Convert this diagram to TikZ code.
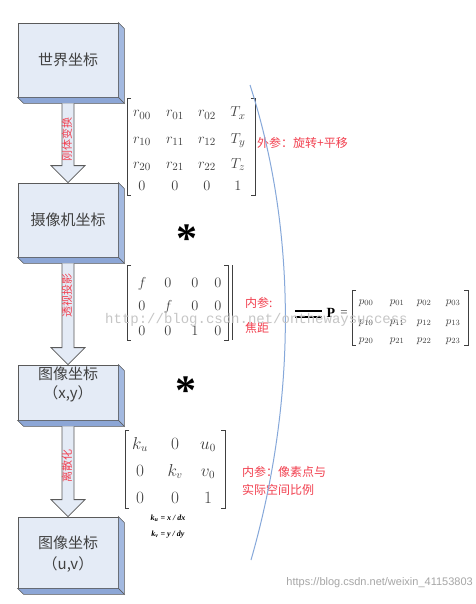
\documentclass[tikz,border=0pt]{standalone}
\usepackage{fontspec}
\setmainfont{Liberation Serif}
\newfontfamily\cjk{Noto Sans CJK SC}
\newfontfamily\wmmono{Liberation Mono}
\newfontfamily\wmsans{Liberation Sans}
\usetikzlibrary{calc}
\definecolor{face}{HTML}{E4EBF6}
\definecolor{side}{HTML}{A3B9E0}
\definecolor{sidedark}{HTML}{8CA6D6}
\definecolor{edge}{HTML}{5A5A5A}
\definecolor{lbl}{HTML}{F2404F}
\definecolor{ent}{HTML}{404040}
\definecolor{curvec}{HTML}{86A8DA}
\tikzset{
  box/.style={draw=edge, fill=face, line width=0.8pt, minimum width=100pt, inner sep=0pt},
  boxtext/.style={inner sep=0pt, font=\cjk\fontsize{15}{15}\selectfont, text=ent},
  boxside/.style={draw=edge, fill=side, line width=0.6pt},
  boxbottom/.style={draw=edge, fill=sidedark, line width=0.6pt},
  blockarrow/.style={draw=edge, fill=face, line width=0.8pt},
  arrlabel/.style={rotate=90, text=lbl, font=\cjk\fontsize{11}{11}\selectfont, inner sep=0pt},
  ent/.style={anchor=base, text=ent, inner sep=0pt, font=\fontsize{15}{15}\selectfont},
  pent/.style={anchor=base, text=ent, inner sep=0pt, font=\fontsize{11}{11}\selectfont},
  brk/.style={draw=ent, line width=0.8pt},
  redlbl/.style={anchor=west, text=lbl, inner sep=0pt, font=\cjk\fontsize{12}{12}\selectfont},
  star/.style={inner sep=0pt, font=\bfseries\fontsize{42}{42}\selectfont},
  kform/.style={inner sep=0pt, font=\bfseries\itshape\fontsize{8}{8}\selectfont},
}
\newcommand{\extrude}[1]{%
  \filldraw[boxside] (#1.north east) -- ++(6,6) -- ($(#1.south east)+(6,6)$) -- (#1.south east) -- cycle;
  \filldraw[boxbottom] (#1.south west) -- ++(6,6) -- ($(#1.south east)+(6,6)$) -- (#1.south east) -- cycle;}
\newcommand{\blockarr}[2]{%
  \filldraw[blockarrow] ($(#1.south)+(-6,6)$) -- ($(#2.north)+(-6,-17)$) -- ($(#2.north)+(-17,-17)$)
     -- (#2.north) -- ($(#2.north)+(17,-17)$) -- ($(#2.north)+(6,-17)$) -- ($(#1.south)+(6,6)$);}
\newcommand{\lbrk}[3]{\draw[brk] (#1+4,#2) -- (#1,#2) -- (#1,#3) -- (#1+4,#3);}
\newcommand{\rbrk}[3]{\draw[brk] (#1-4,#2) -- (#1,#2) -- (#1,#3) -- (#1-4,#3);}
\begin{document}
\begin{tikzpicture}[x=1pt,y=-1pt]
\useasboundingbox[fill=white] (0,0) rectangle (475,604);

% boxes
\node[box, minimum height=74pt] (b1) at (68,60) {};
\node[box, minimum height=74pt] (b2) at (68,220) {};
\node[box, minimum height=55pt] (b3) at (68,392.5) {};
\node[box, minimum height=71pt] (b4) at (68,552.5) {};
\extrude{b1}\extrude{b2}\extrude{b3}\extrude{b4}
\node[boxtext] (t1) at (b1) {世界坐标};
\node[boxtext] (t2) at (b2) {摄像机坐标};
\node[boxtext] (t3a) at (68,374) {图像坐标};
\node[boxtext] (t3b) at (68,394) {（x,y）};
\node[boxtext] (t4a) at (68,543) {图像坐标};
\node[boxtext] (t4b) at (68,564) {（u,v）};

% block arrows
\blockarr{b1}{b2}
\blockarr{b2}{b3}
\blockarr{b3}{b4}
\node[arrlabel] (l1) at (67,139) {刚体变换};
\node[arrlabel] (l2) at (67,295) {透视投影};
\node[arrlabel] (l3) at (67,466) {离散化};

% matrix 1 (extrinsic)
\lbrk{127}{98}{195}\rbrk{255}{98}{195}
\foreach \x/\y/\t [count=\i] in {
  142/117/r_{00}, 175/117/r_{01}, 207/117/r_{02}, 238/117/T_x,
  142/143/r_{10}, 175/143/r_{11}, 207/143/r_{12}, 238/143/T_y,
  142/168/r_{20}, 175/168/r_{21}, 207/168/r_{22}, 238/168/T_z,
  142/190/0, 175/190/0, 207/190/0, 238/190/1}
  \node[ent] (ma\i) at (\x,\y) {$\t$};
\node[redlbl] (ext) at (257,143) {外参：旋转+平移};

\node[star] (s1) at (187,239) {*};

% matrix 2 (projection)
\lbrk{127}{265}{340}\rbrk{228}{265}{340}
\draw[brk] (232,265) -- (232,340);
\foreach \x/\y/\t [count=\i] in {
  142/287/f, 168/287/0, 195/287/0, 218/287/0,
  142/310/0, 168/310/f, 195/310/0, 218/310/0,
  142/335/0, 168/335/0, 195/335/1, 218/335/0}
  \node[ent] (mb\i) at (\x,\y) {$\t$};
\node[redlbl] (int1) at (245,303) {内参:};
\node[redlbl] (int2) at (245,328) {焦距};

\node[star] (s2) at (186,391) {*};

% matrix 3 (pixel)
\lbrk{125}{430}{508}\rbrk{225}{430}{508}
\foreach \x/\y/\t [count=\i] in {
  140/449/k_u, 175/449/0, 208/449/u_0,
  140/476/0, 175/476/k_v, 208/476/v_0,
  140/503/0, 175/503/0, 208/503/1}
  \node[ent, font=\fontsize{16}{16}\selectfont] (mc\i) at (\x,\y) {$\t$};
\node[redlbl] (pix1) at (242,472) {内参：像素点与};
\node[redlbl] (pix2) at (242,490) {实际空间比例};
\node[kform] (ku) at (168,518) {k\textsubscript{u} = x / dx};
\node[kform] (kv) at (168,535) {k\textsubscript{v} = y / dy};

% curve
\draw[curvec, line width=1pt] (250,85) .. controls (297,230) and (297,400) .. (251,560);

% equals and P matrix
\draw[line width=2pt] (295,311) -- (322,311);
\draw[line width=2pt] (295,317) -- (322,317);
\node[inner sep=0pt, font=\bfseries\fontsize{14}{14}\selectfont] (P) at (331,313) {P};
\node[inner sep=0pt, font=\fontsize{13}{13}\selectfont, text=ent] (peq) at (344,314) {=};
\lbrk{352}{290}{345}\rbrk{468}{290}{345}
\foreach \x/\y/\t [count=\i] in {
  366/304/p_{00}, 397/304/p_{01}, 424/304/p_{02}, 453/304/p_{03},
  366/324/p_{10}, 397/324/p_{11}, 424/324/p_{12}, 453/324/p_{13},
  366/342/p_{20}, 397/342/p_{21}, 424/342/p_{22}, 453/342/p_{23}}
  \node[pent] (mp\i) at (\x,\y) {$\t$};

% watermarks
\node[anchor=west, inner sep=0pt, text=gray!45, font=\wmmono\fontsize{14}{14}\selectfont] (wm1) at (105,320) {http://blog.csdn.net/onthewaysuccess};
\node[anchor=east, inner sep=0pt, text=gray!70, font=\wmsans\fontsize{11}{11}\selectfont] (wm2) at (473,583) {https://blog.csdn.net/weixin\_41153803};
\end{tikzpicture}
\end{document}
